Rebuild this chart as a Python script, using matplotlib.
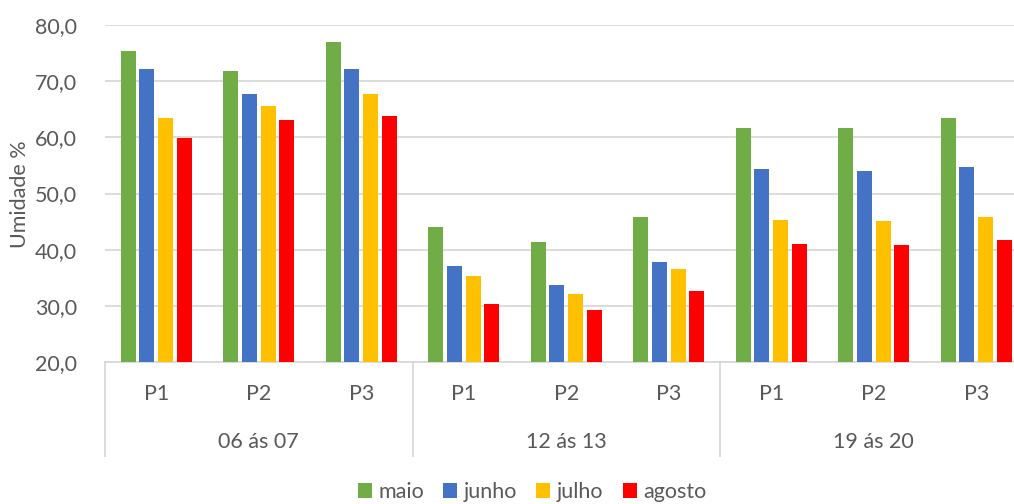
import numpy as np
import matplotlib.pyplot as plt
import matplotlib.transforms as mtransforms
from matplotlib.ticker import FuncFormatter

plt.rcParams['font.family'] = ['Lato', 'DejaVu Sans']

periodos = ['06 ás 07', '12 ás 13', '19 ás 20']
pontos = ['P1', 'P2', 'P3']

maio = [75.4, 71.8, 77.0, 44.0, 41.3, 45.8, 61.6, 61.6, 63.5]
junho = [72.1, 67.7, 72.1, 37.1, 33.7, 37.9, 54.3, 54.0, 54.7]
julho = [63.4, 65.5, 67.6, 35.3, 32.2, 36.5, 45.3, 45.2, 45.9]
agosto = [59.9, 63.1, 63.7, 30.4, 29.3, 32.6, 41.1, 40.8, 41.7]

series = [('maio', maio, '#70AD47'),
          ('junho', junho, '#4472C4'),
          ('julho', julho, '#FFC000'),
          ('agosto', agosto, '#FF0000')]

cinza = '#595959'
fs = 15.5

fig = plt.figure(figsize=(10.14, 5.04), dpi=100)
ax = fig.add_axes([105 / 1014, 141.7 / 504, 922.5 / 1014, 337.6 / 504])

x = np.arange(len(maio))
step = 0.182
for i, (nome, vals, cor) in enumerate(series):
    ax.bar(x + (i - 1.5) * step, np.array(vals) - 20, bottom=20, width=0.145,
           color=cor, label=nome, zorder=3)

ax.set_xlim(-0.5, len(maio) - 0.5)
ax.set_ylim(20, 80)
ax.set_yticks(np.arange(20, 81, 10))
ax.yaxis.set_major_formatter(FuncFormatter(lambda v, p: f'{v:.1f}'.replace('.', ',')))
ax.tick_params(axis='y', length=0, pad=20, labelsize=fs, labelcolor=cinza)
ax.set_xticks([])
ax.grid(axis='y', color='#D9D9D9', linewidth=1.3, zorder=0)
for lado in ['left', 'right', 'top']:
    ax.spines[lado].set_visible(False)
ax.spines['bottom'].set_color('#D9D9D9')
ax.spines['bottom'].set_linewidth(1.3)

# rótulos em dois níveis no eixo x
trans = mtransforms.blended_transform_factory(ax.transData, ax.transAxes)
for k, xi in enumerate(x):
    ax.text(xi, -0.095, pontos[k % 3], transform=trans, ha='center', va='center',
            fontsize=fs, color=cinza)
for g, nome in enumerate(periodos):
    ax.text(3 * g + 1, -0.235, nome, transform=trans, ha='center', va='center',
            fontsize=fs, color=cinza)
for xs in np.arange(-0.5, len(maio), 3):
    ax.plot([xs, xs], [0, -0.278], transform=trans, color='#D9D9D9',
            linewidth=1.3, clip_on=False)

fig.text(20 / 1014, 1 - 194 / 504, 'Umidade %', rotation=90, ha='center',
         va='center', fontsize=fs, color=cinza)

fig.legend(loc='center', bbox_to_anchor=(532 / 1014, 1 - 492 / 504), ncol=4,
           frameon=False, fontsize=fs, labelcolor=cinza, handlelength=0.65,
           handleheight=0.65, handletextpad=0.3, columnspacing=0.9)

fig.savefig('out.png', dpi=100)
